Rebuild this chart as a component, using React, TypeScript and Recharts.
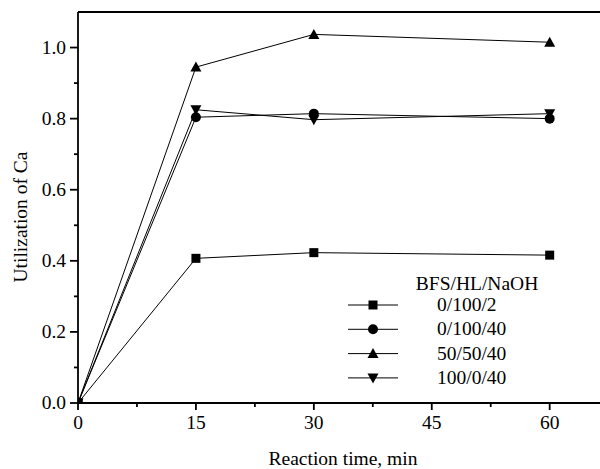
import { LineChart, Line, XAxis, YAxis, Legend, Label, ReferenceLine } from "recharts";

// reaction time (min)
const times = [0, 15, 30, 60];
// utilization of Ca for each BFS/HL/NaOH ratio
const s0_100_2 = [0, 0.407, 0.423, 0.416];
const s0_100_40 = [0, 0.804, 0.814, 0.8];
const s50_50_40 = [0, 0.945, 1.037, 1.015];
const s100_0_40 = [0, 0.825, 0.797, 0.814];

const seriesNames = ["0/100/2", "0/100/40", "50/50/40", "100/0/40"];
const xTicks = [0, 7.5, 15, 22.5, 30, 37.5, 45, 52.5, 60];
const yTicks = [0, 0.1, 0.2, 0.3, 0.4, 0.5, 0.6, 0.7, 0.8, 0.9, 1.0];

const data = times.map((t, i) => ({
  t,
  a: s0_100_2[i],
  b: s0_100_40[i],
  c: s50_50_40[i],
  d: s100_0_40[i],
}));

const FONT = '"Liberation Serif", "Times New Roman", Times, serif';
const txt = { fontFamily: FONT, fontSize: 19.5, fill: "#000" };

const Marker = ({ shape, cx, cy }: { shape: string; cx: number; cy: number }) => {
  if (cx == null || cy == null) return null;
  if (shape === "square") return <rect x={cx - 4.5} y={cy - 4.5} width={9} height={9} fill="#000" />;
  if (shape === "circle") return <circle cx={cx} cy={cy} r={5} fill="#000" />;
  if (shape === "up")
    return <polygon points={`${cx - 5.5},${cy + 4.5} ${cx + 5.5},${cy + 4.5} ${cx},${cy - 5.5}`} fill="#000" />;
  return <polygon points={`${cx - 5.5},${cy - 4.5} ${cx + 5.5},${cy - 4.5} ${cx},${cy + 5.5}`} fill="#000" />;
};

const shapes = ["square", "circle", "up", "down"];

const XTick = (props: any) => {
  const { x, y, payload } = props;
  const major = payload.value % 15 === 0;
  return (
    <g>
      <line x1={x} x2={x} y1={y} y2={y + (major ? 7 : 4)} stroke="#000" strokeWidth={1.8} />
      {major && (
        <text x={x} y={y + 26} textAnchor="middle" style={txt}>
          {payload.value}
        </text>
      )}
    </g>
  );
};

const YTick = (props: any) => {
  const { x, y, payload } = props;
  const v = Math.round(payload.value * 10);
  const major = v % 2 === 0;
  return (
    <g>
      <line x1={x - (major ? 8 : 4)} x2={x} y1={y} y2={y} stroke="#000" strokeWidth={1.8} />
      {major && (
        <text x={x - 12} y={y + 6} textAnchor="end" style={txt}>
          {payload.value.toFixed(1)}
        </text>
      )}
    </g>
  );
};

const renderLegend = () => (
  <svg width={230} height={125}>
    <text x={137} y={22} textAnchor="middle" style={txt}>
      BFS/HL/NaOH
    </text>
    {seriesNames.map((name, i) => {
      const cy = 37 + i * 24.3;
      return (
        <g key={name}>
          <line x1={8} x2={58} y1={cy} y2={cy} stroke="#000" strokeWidth={1} />
          <Marker shape={shapes[i]} cx={33} cy={cy} />
          <text x={97} y={cy + 6} style={txt}>
            {name}
          </text>
        </g>
      );
    })}
  </svg>
);

export default function App() {
  const keys = ["a", "b", "c", "d"];
  return (
    <div
      style={{
        position: "absolute",
        left: 0,
        top: 0,
        width: 600,
        height: 469,
        overflow: "hidden",
        background: "#fff",
        fontFamily: FONT,
      }}
    >
      <LineChart width={600} height={469} data={data} margin={{ top: 12, right: 0, bottom: 0, left: 0 }}>
        <XAxis
          dataKey="t"
          type="number"
          domain={[0, 66.4]}
          ticks={xTicks}
          interval={0}
          allowDataOverflow
          height={66}
          tickSize={0}
          tickMargin={0}
          tick={<XTick />}
          axisLine={{ stroke: "#000", strokeWidth: 1.8 }}
        >
          <Label
            content={() => (
              <text x={343} y={465} textAnchor="middle" style={txt}>
                Reaction time, min
              </text>
            )}
          />
        </XAxis>
        <YAxis
          type="number"
          domain={[0, 1.1]}
          ticks={yTicks}
          interval={0}
          allowDataOverflow
          width={78}
          tickSize={0}
          tickMargin={0}
          tick={<YTick />}
          axisLine={{ stroke: "#000", strokeWidth: 1.8 }}
        >
          <Label
            content={() => (
              <text x={27} y={217} transform="rotate(-90, 27, 217)" textAnchor="middle" style={txt}>
                Utilization of Ca
              </text>
            )}
          />
        </YAxis>
        <ReferenceLine y={1.1} stroke="#000" strokeWidth={2} />
        {keys.map((k, i) => (
          <Line
            key={k}
            dataKey={k}
            name={seriesNames[i]}
            type="linear"
            stroke="#000"
            strokeWidth={1}
            isAnimationActive={false}
            dot={(p: any) => <Marker key={`${k}-${p.index}`} shape={shapes[i]} cx={p.cx} cy={p.cy} />}
            activeDot={false}
          />
        ))}
        <Legend
          layout="vertical"
          align="center"
          verticalAlign="middle"
          content={renderLegend}
          wrapperStyle={{ position: "absolute", left: 340, top: 268, width: 230, height: 125 }}
        />
      </LineChart>
    </div>
  );
}
